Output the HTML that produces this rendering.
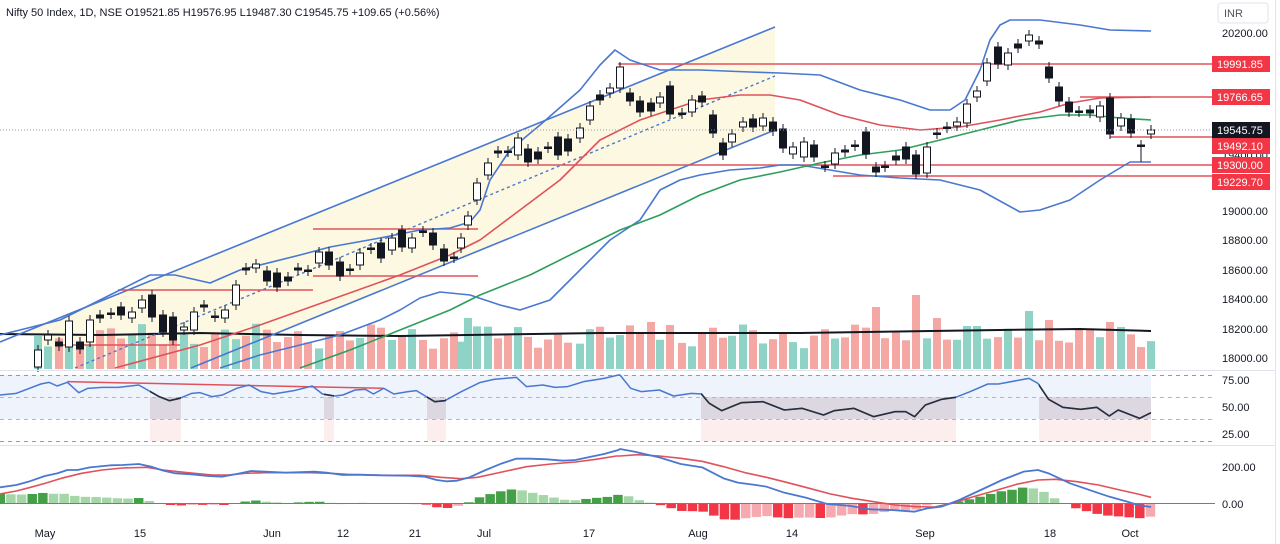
<!DOCTYPE html>
<html><head><meta charset="utf-8">
<style>
html,body{margin:0;padding:0;background:#fff;}
svg{display:block;font-family:"Liberation Sans",sans-serif;}
</style></head>
<body>
<svg id="c" width="1280" height="544" viewBox="0 0 1280 544" xmlns="http://www.w3.org/2000/svg">
<rect width="1280" height="544" fill="#fff"/>
<!-- RSI background -->
<rect x="0" y="375" width="1151" height="44" fill="#eef3fc"/>
<g id="spans"></g>
<!-- channel fill -->
<polygon points="30,330 775,27 775,130 191,368 60,368" fill="#fdf8e2"/>
<g id="vol"></g>
<g id="lines"></g>
<g id="candles"></g>
<g id="hist"></g>
<g id="macd"></g>
<!-- header -->
<text x="6" y="16" font-size="11" fill="#131722">Nifty 50 Index, 1D, NSE  O19521.85  H19576.95  L19487.30  C19545.75  +109.65 (+0.56%)</text>
<!-- dotted current price -->
<line x1="0" y1="130" x2="1212" y2="130" stroke="#9598a1" stroke-width="1" stroke-dasharray="1,2"/>
<!-- separators -->
<line x1="0" y1="370.5" x2="1275" y2="370.5" stroke="#e0e3eb"/>
<line x1="0" y1="445.5" x2="1275" y2="445.5" stroke="#e0e3eb"/>
<line x1="1275.5" y1="0" x2="1275.5" y2="544" stroke="#e0e3eb"/>
<!-- RSI dashed -->
<g stroke="#9598a1" stroke-dasharray="4,4" stroke-width="1">
<line x1="0" y1="375.5" x2="1215" y2="375.5"/>
<line x1="0" y1="441.5" x2="1215" y2="441.5"/>
</g>
<g stroke="#e8a0a6" stroke-dasharray="4,4" stroke-width="1">
<line x1="0" y1="397.5" x2="1215" y2="397.5"/>
<line x1="0" y1="419.5" x2="1215" y2="419.5"/>
</g>
<line x1="0" y1="503.5" x2="1215" y2="503.5" stroke="#787b86" stroke-width="1"/>
<g id="rsi"></g>
<!-- axis labels -->
<g font-size="11" fill="#131722">
<rect x="1218" y="3" width="50" height="20" rx="3" fill="#fff" stroke="#e0e3eb"/>
<text x="1224" y="17" fill="#50535e">INR</text>
<text x="1222" y="37">20200.00</text>
<text x="1222" y="133">19600.00</text>
<text x="1222" y="159">19400.00</text>
<text x="1222" y="215">19000.00</text>
<text x="1222" y="244">18800.00</text>
<text x="1222" y="274">18600.00</text>
<text x="1222" y="303">18400.00</text>
<text x="1222" y="333">18200.00</text>
<text x="1222" y="362">18000.00</text>
<text x="1222" y="384">75.00</text>
<text x="1222" y="411">50.00</text>
<text x="1222" y="438">25.00</text>
<text x="1222" y="471">200.00</text>
<text x="1222" y="508">0.00</text>
</g>
<g font-size="11" fill="#fff">
<rect x="1212" y="56" width="58" height="16" fill="#f23645"/><text x="1217" y="68">19991.85</text>
<rect x="1212" y="89" width="58" height="16" fill="#f23645"/><text x="1217" y="101">19766.65</text>
<rect x="1212" y="138" width="58" height="16" fill="#f23645"/><text x="1217" y="150">19492.10</text>
<rect x="1212" y="157" width="58" height="16" fill="#f23645"/><text x="1217" y="169">19300.00</text>
<rect x="1212" y="174" width="58" height="16" fill="#f23645"/><text x="1217" y="186">19229.70</text>
<rect x="1212" y="122" width="58" height="16" fill="#131722"/><text x="1217" y="134">19545.75</text>
</g>
<g font-size="11" fill="#131722" text-anchor="middle">
<text x="45" y="537">May</text><text x="140" y="537">15</text><text x="272" y="537">Jun</text>
<text x="343" y="537">12</text><text x="415" y="537">21</text><text x="484" y="537">Jul</text>
<text x="589" y="537">17</text><text x="698" y="537">Aug</text><text x="792" y="537">14</text>
<text x="925" y="537">Sep</text><text x="1050" y="537">18</text><text x="1130" y="537">Oct</text>
</g>
</svg>
<script>
var NS="http://www.w3.org/2000/svg";
function el(p,t,a){var e=document.createElementNS(NS,t);for(var k in a)e.setAttribute(k,a[k]);document.getElementById(p).appendChild(e);return e;}
function pl(p,pts,col,w,extra){var a={points:pts.map(function(q){return q[0]+","+q[1]}).join(" "),fill:"none",stroke:col,"stroke-width":w||1.5,"stroke-linejoin":"round"};for(var k in extra)a[k]=extra[k];return el(p,"polyline",a);}
function interp(pts,x){if(x<=pts[0][0])return pts[0][1];for(var i=1;i<pts.length;i++){if(x<=pts[i][0]){var a=pts[i-1],b=pts[i];return a[1]+(b[1]-a[1])*(x-a[0])/(b[0]-a[0]);}}return pts[pts.length-1][1];}
// spans
var spans=[[150,181],[324,334],[427,446],[701,956],[1039,1151]];
spans.forEach(function(s){el("spans","rect",{x:s[0],y:397,width:s[1]-s[0],height:22,fill:"#dcd7e1"});el("spans","rect",{x:s[0],y:419,width:s[1]-s[0],height:22,fill:"#fdeeee"});});
// candles
var C=[[38,367,350],[48,340,335],[59,342,346],[69,347,321],[80,342,349],[90,342,320],[100,315,318],[111,313,314],[121,307,315],[132,318,312],[142,308,300],[152,295,317],[163,315,332],[173,317,340],[184,330,327],[194,330,312],[204,305,307],[215,316,317],[225,318,310],[236,305,285],[246,268,270],[256,268,264],[267,271,281],[277,273,287],[288,277,281],[298,268,270],[308,270,271],[319,263,252],[329,252,265],[340,262,276],[350,269,270],[360,265,253],[371,248,249],[381,243,258],[392,250,238],[402,230,247],[412,248,238],[423,231,232],[433,233,245],[444,249,261],[454,257,258],[461,248,238],[468,225,216],[477,200,183],[488,175,163],[498,151,153],[508,151,152],[518,155,138],[528,149,162],[538,152,159],[548,147,148],[558,137,155],[568,139,151],[580,138,128],[590,120,106],[600,95,100],[610,93,88],[620,88,67],[630,93,101],[640,101,112],[651,103,111],[660,103,97],[670,86,114],[682,113,114],[692,112,100],[702,96,102],[713,115,133],[723,143,155],[732,142,134],[743,127,122],[753,119,127],[763,126,118],[773,122,131],[783,129,148],[793,154,147],[804,157,142],[814,145,157],[825,166,167],[835,164,153],[845,150,152],[855,145,146],[866,132,154],[876,167,172],[885,166,167],[896,156,160],[906,147,159],[916,155,174],[927,173,147],[937,133,134],[947,127,128],[957,126,122],[967,123,104],[977,97,91],[987,81,63],[998,47,64],[1008,65,53],[1018,44,48],[1029,41,35],[1039,41,44],[1049,67,78],[1059,87,101],[1069,102,112],[1079,111,112],[1090,110,113],[1100,117,106],[1110,98,134],[1121,126,118],[1131,119,133],[1141,145,146],[1151,134,130]];
// volume
var spikes={262:283,468:318,651:322,670:325,876:307,916:295,937:318,1029:311,1049:320,1110:322,1090:330};
C.forEach(function(c,i){var up=c[2]<c[1];var top=336+8*Math.sin(i*1.7)+5*Math.sin(i*0.53);
 for(var k in spikes){if(Math.abs(k-c[0])<5)top=spikes[k];}
 el("vol","rect",{x:c[0]-4,y:top,width:8,height:369-top,fill:up?"#8fd3c6":"#f5a8a3"});});
// lines
pl("lines",[[0,334],[100,335],[200,333],[300,335],[400,336],[600,333],[800,333],[1000,330],[1080,329],[1151,331]],"#131722",2);
pl("lines",[[0,342],[775,27]],"#4a78d0",1.6);
pl("lines",[[191,368],[775,130]],"#4a78d0",1.6);
pl("lines",[[75,368],[775,76]],"#4a78d0",1.4,{"stroke-dasharray":"3,3"});
// horizontal red
[[618,1212,64],[1080,1212,97],[1110,1212,137],[500,1212,165],[833,1212,176],[313,478,229],[313,478,276],[118,313,290],[55,180,345]].forEach(function(h){el("lines","line",{x1:h[0],y1:h[2],x2:h[1],y2:h[2],stroke:"#e0525a","stroke-width":1.4});});
pl("lines",[[0,335],[60,320],[120,290],[150,275],[175,275],[210,283],[240,270],[300,255],[330,247],[380,238],[420,230],[450,228],[470,222],[480,210],[490,180],[510,150],[540,125],[580,90],[600,65],[615,50],[630,60],[660,70],[700,70],[750,72],[780,73],[820,75],[860,90],[900,100],[930,110],[950,110],[965,100],[980,70],[990,40],[1000,25],[1010,20],[1040,20],[1080,25],[1110,30],[1151,31]],"#4a78d0",1.6);
pl("lines",[[115,368],[200,345],[260,325],[330,300],[400,275],[450,255],[480,240],[520,210],[560,180],[600,140],[640,120],[670,110],[700,100],[740,95],[770,95],[800,100],[840,115],[880,125],[920,130],[960,127],[1000,120],[1040,112],[1070,103],[1100,98],[1151,97]],"#e0525a",1.6);
pl("lines",[[220,368],[260,355],[300,345],[340,335],[380,320],[400,310],[420,298],[440,292],[470,295],[500,305],[520,310],[550,300],[580,270],[610,240],[640,220],[660,190],[680,180],[700,175],[730,170],[760,168],[780,165],[800,165],[830,170],[860,175],[900,178],[940,180],[980,190],[1020,212],[1040,210],[1070,200],[1100,180],[1130,162],[1151,162]],"#4a78d0",1.6);
pl("lines",[[300,368],[350,350],[400,330],[450,310],[480,295],[530,275],[580,250],[620,230],[660,215],[700,195],[740,180],[780,172],[820,163],[860,155],[900,150],[940,140],[980,130],[1020,120],[1060,115],[1090,115],[1120,118],[1151,120]],"#2e9e5b",1.6);
// candles draw
C.forEach(function(c){var o=c[1],cl=c[2],t=Math.min(o,cl),b=Math.max(o,cl);var up=cl<o;
 var l=b+5;if(c[0]==1141)l=162;
 el("candles","line",{x1:c[0],y1:t-5,x2:c[0],y2:l,stroke:"#131722","stroke-width":1});
 el("candles","rect",{x:c[0]-3.5,y:t,width:7,height:Math.max(b-t,1.5),fill:up?"#fff":"#131722",stroke:"#131722","stroke-width":1});});
// MACD
function z6(a){return a.map(function(p){return [p[0]/2.45,370+p[1]/3];});}
function z7(a){return a.map(function(p){return [620+p[0]/2.8,370+p[1]/3];});}
var blue=z6([[0,352],[40,345],[70,335],[110,318],[140,310],[165,300],[190,300],[220,292],[270,286],[300,285],[340,282],[370,290],[400,302],[430,310],[470,313],[510,318],[545,320],[580,312],[615,303],[650,305],[700,308],[770,305],[800,308],[840,315],[880,314],[930,316],[1000,317],[1040,320],[1070,330],[1095,334],[1120,332],[1150,322],[1190,300],[1230,280],[1265,266],[1300,266],[1340,268],[1380,272],[1410,270],[1440,262],[1480,252],[1515,240]]).concat(z7([[0,237],[40,245],[110,262],[170,282],[230,292],[290,325],[330,338],[380,345],[410,350],[460,368],[520,383],[580,402],[640,407],[700,418],[760,420],[825,425],[860,415],[900,410],[950,390],[1010,360],[1070,330],[1130,305],[1170,300],[1200,310],[1260,340],[1320,362],[1370,380],[1420,395],[1450,405],[1487,411]]));
var red=z6([[0,372],[40,363],[75,352],[110,340],[150,325],[200,310],[250,300],[300,294],[360,292],[400,300],[460,308],[520,315],[560,315],[600,310],[650,308],[700,308],[760,308],[810,310],[850,313],[900,315],[960,316],[1030,316],[1080,322],[1130,326],[1170,322],[1230,306],[1290,290],[1350,282],[1410,276],[1460,268],[1510,258]]).concat(z7([[0,258],[50,254],[110,258],[170,265],[230,274],[290,290],[350,308],[410,322],[470,338],[530,355],[590,372],[650,385],[710,395],[770,405],[830,410],[880,411],[930,400],[990,380],[1050,362],[1110,343],[1170,330],[1220,328],[1280,335],[1340,345],[1400,360],[1450,372],[1487,382]]));
var prev=0;
for(var i=0;i<=108;i++){var x=0+i*10.65;if(x>1151)break;var h=(interp(red,x)-interp(blue,x))*1.4;
 var col;if(h>=0)col=(h>=prev)?"#43a047":"#a5d6a7";else col=(h<=prev)?"#f23645":"#f7a9b0";
 prev=h;el("hist","rect",{x:x-4.5,y:h>=0?503-h:503,width:9.5,height:Math.max(Math.abs(h),0.5),fill:col});}
pl("macd",red,"#e0525a",1.6);
pl("macd",blue,"#4a78d0",1.8);
// RSI
var rsi=z6([[0,75],[40,70],[100,42],[120,37],[140,48],[165,37],[193,68],[215,55],[250,52],[290,52],[340,45],[390,80],[415,92],[440,85],[470,70],[490,68],[520,80],[545,75],[580,55],[610,45],[640,65],[670,72],[720,62],[765,48],[790,72],[820,78],[840,75],[870,60],[895,58],[915,72],[940,55],[965,72],[1000,65],[1020,62],[1065,95],[1090,92],[1130,65],[1175,38],[1210,28],[1265,22],[1290,50],[1330,45],[1360,52],[1390,50],[1430,35],[1480,25],[1515,15]]).concat(z7([[0,15],[30,55],[60,65],[110,60],[150,78],[200,70],[228,72],[250,100],[285,122],[340,98],[400,95],[460,120],[510,115],[570,135],[600,122],[655,115],[710,140],[770,125],[800,125],[825,140],[855,105],[900,88],[940,82],[980,65],[1030,42],[1060,42],[1120,30],[1145,25],[1170,40],[1200,88],[1240,112],[1290,118],[1335,112],[1370,138],[1395,120],[1455,145],[1487,128]]));
pl("rsi",z6([[165,35],[940,55]]),"#e0525a",1.5);
pl("rsi",rsi,"#4a78d0",1.5);
var cp=el("rsi","clipPath",{id:"sp"});
spans.forEach(function(s){var r=document.createElementNS(NS,"rect");r.setAttribute("x",s[0]);r.setAttribute("y",370);r.setAttribute("width",s[1]-s[0]);r.setAttribute("height",75);cp.appendChild(r);});
pl("rsi",rsi,"#2a2e39",1.6,{"clip-path":"url(#sp)"});
</script>
</body></html>
